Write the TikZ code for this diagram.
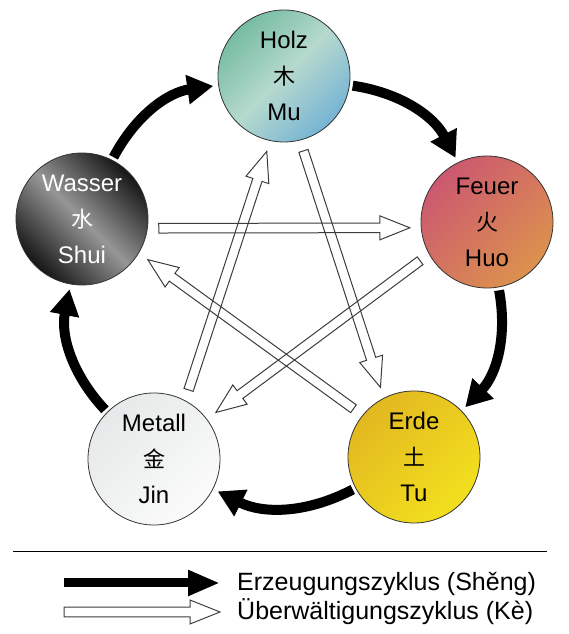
\documentclass[tikz,border=0pt]{standalone}
\usepackage{fontspec}
\setmainfont{Liberation Sans}
\newfontfamily\cjk{Noto Sans CJK SC}
\usetikzlibrary{arrows.meta,calc}
\definecolor{holzA}{RGB}{118,188,162}
\definecolor{holzM}{RGB}{182,217,206}
\definecolor{holzB}{RGB}{118,180,212}
\definecolor{feuerA}{RGB}{204,88,112}
\definecolor{feuerB}{RGB}{220,146,78}
\definecolor{erdeA}{RGB}{226,184,32}
\definecolor{erdeB}{RGB}{242,224,30}
\definecolor{metallA}{RGB}{230,233,233}
\definecolor{metallB}{RGB}{251,251,251}
\definecolor{wasserD}{RGB}{22,22,22}
\definecolor{wasserL}{RGB}{150,150,150}
\definecolor{keline}{RGB}{60,60,60}
\newcommand{\kearrow}[2]{%
  \path (#1) coordinate (kA0) (#2) coordinate (kB0);
  \path ($(kA0)!11pt!(kB0)$) coordinate (kA) ($(kB0)!11pt!(kA0)$) coordinate (kB);
  \path ($(kB)!30pt!(kA)$) coordinate (kC);
  \draw[kestyle] ($(kA)!4.8pt!90:(kB)$) -- ($(kC)!4.8pt!-90:(kA)$) -- ($(kC)!12pt!-90:(kA)$) -- (kB) -- ($(kC)!12pt!90:(kA)$) -- ($(kC)!4.8pt!90:(kA)$) -- ($(kA)!4.8pt!-90:(kB)$) -- cycle;
}
\begin{document}
\begin{tikzpicture}[x=1pt,y=1pt,
  elem/.style={circle, draw=black!80, line width=0.8pt, minimum size=132pt, inner sep=0pt,
    align=center, font=\fontsize{24}{36}\selectfont},
  sheng/.style={line width=10pt, -{Triangle[length=26pt,width=28pt]}, shorten >=5pt, shorten <=3pt},
  kestyle/.style={draw=keline, line width=1pt, line join=miter},
  legtext/.style={anchor=base west, inner sep=0pt, font=\fontsize{25}{28}\selectfont},
]
\useasboundingbox (0,0) rectangle (569,634);

% elements
\node[elem, top color=holzA, bottom color=holzB, middle color=holzM, shading angle=45] (holz) at (284,558)
  {Holz\\{\cjk\fontsize{22}{36}\selectfont 木}\\Mu};
\node[elem, top color=feuerA, bottom color=feuerB, middle color=feuerA!50!feuerB, shading angle=45] (feuer) at (487,412)
  {Feuer\\{\cjk\fontsize{22}{36}\selectfont 火}\\Huo};
\node[elem, top color=erdeA, bottom color=erdeB, middle color=erdeA!50!erdeB, shading angle=45] (erde) at (414,177)
  {Erde\\{\cjk\fontsize{22}{36}\selectfont 土}\\Tu};
\node[elem, top color=metallA, bottom color=metallB, middle color=metallA!50!metallB, shading angle=45] (metall) at (154,175)
  {Metall\\{\cjk\fontsize{22}{36}\selectfont 金}\\Jin};
\node[elem, text=white, top color=wasserD, bottom color=wasserD, middle color=wasserL, shading angle=-45] (wasser) at (82,415)
  {Wasser\\{\cjk\fontsize{22}{36}\selectfont 水}\\Shui};

% Sheng cycle
\draw[sheng] (holz.-8.8) to[bend left=27] (feuer.116.8);
\draw[sheng] (feuer.-80.8) to[bend left=27] (erde.44.8);
\draw[sheng] (erde.-152.8) to[bend left=27] (metall.-27.2);
\draw[sheng] (metall.135.2) to[bend left=27] (wasser.260.8);
\draw[sheng] (wasser.63.2) to[bend left=27] (holz.188.8);

% Ke cycle
\kearrow{wasser.-8}{feuer.185}
\kearrow{erde.141.7}{wasser.-31.6}
\kearrow{feuer.209.6}{metall.37.9}
\kearrow{metall.62.4}{holz.258}
\kearrow{holz.284.2}{erde.117.6}

% legend
\coordinate (l1) at (13,82);
\coordinate (l2) at (547,82);
\draw[line width=1pt] (l1) -- (l2);
\coordinate (s1) at (64,51);
\coordinate (e1) at (220,51);
\draw[line width=9pt, -{Triangle[length=32pt,width=24pt]}] (s1) -- (e1);
\coordinate (s2) at (53,22);
\coordinate (e2) at (231,22);
\kearrow{s2}{e2}
\node[legtext] (t1) at (237,43) {Erzeugungszyklus (Shěng)};
\node[legtext] (t2) at (237,14) {Überwältigungszyklus (Kè)};
\end{tikzpicture}
\end{document}
